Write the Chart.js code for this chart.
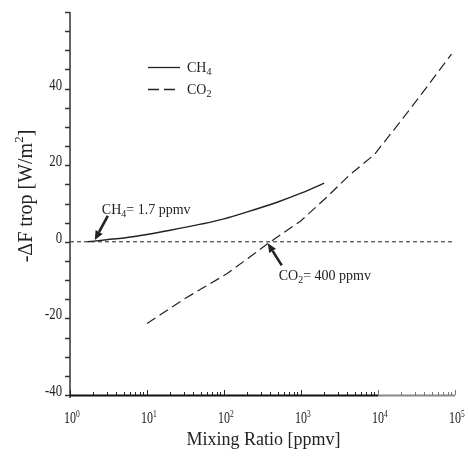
<!DOCTYPE html>
<html>
<head>
<meta charset="utf-8">
<script src="https://cdn.jsdelivr.net/npm/chart.js@4.4.0/dist/chart.umd.min.js"></script>
<style>
html, body { margin: 0; padding: 0; background: #fff; }
</style>
</head>
<body>
<canvas id="chart" width="468" height="456"></canvas>
<script>
// values
var ch4Ratio   = [1.7, 3, 5, 10, 20, 50, 100, 200, 500, 1000, 2000];
var ch4Forcing = [0, 0.55, 1.0, 1.9, 3.0, 4.6, 6.0, 7.8, 10.4, 12.7, 15.3];

var co2Ratio   = [10, 30, 110, 400, 1000, 2200, 4300, 9000, 21000, 43000, 90000];
var co2Forcing = [-21.3, -15.0, -8.3, 0, 5.5, 11.8, 17.5, 22.8, 32.2, 40.4, 49.0];

var zeroRatio   = [1, 100000];
var zeroForcing = [0, 0];

var xDecades    = [0, 1, 2, 3, 4, 5];        // labels 10^n
var yTickLabels = [-40, -20, 0, 20, 40];
var yTickMarks  = [-40, -35, -30, -25, -20, -15, -10, -5, 0, 5, 10, 15, 20, 25, 30, 35, 40, 45, 50, 55, 60];

var serif = '"Liberation Serif", "Times New Roman", serif';
var ink = '#222';

function pts(xs, ys) {
  return xs.map(function (x, i) { return { x: x, y: ys[i] }; });
}

// draw text made of pieces: [text, size, dy]
function rich(ctx, parts, x, y, sx) {
  sx = sx || 1;
  ctx.save();
  ctx.translate(x, y);
  ctx.scale(sx, 1);
  var cx = 0;
  parts.forEach(function (p) {
    ctx.font = p[1] + 'px ' + serif;
    ctx.fillText(p[0], cx, p[2] || 0);
    cx += ctx.measureText(p[0]).width;
  });
  ctx.restore();
  return cx * sx;
}

function textWidth(ctx, s, size) {
  ctx.font = size + 'px ' + serif;
  return ctx.measureText(s).width;
}

function arrow(ctx, x0, y0, x1, y1) {
  var a = Math.atan2(y1 - y0, x1 - x0);
  var hl = 9, hw = 4;
  ctx.save();
  ctx.strokeStyle = ink;
  ctx.fillStyle = ink;
  ctx.lineWidth = 2.6;
  ctx.beginPath();
  ctx.moveTo(x0, y0);
  ctx.lineTo(x1 - Math.cos(a) * hl, y1 - Math.sin(a) * hl);
  ctx.stroke();
  ctx.beginPath();
  ctx.moveTo(x1, y1);
  ctx.lineTo(x1 - Math.cos(a) * hl - Math.sin(a) * hw, y1 - Math.sin(a) * hl + Math.cos(a) * hw);
  ctx.lineTo(x1 - Math.cos(a) * hl + Math.sin(a) * hw, y1 - Math.sin(a) * hl - Math.cos(a) * hw);
  ctx.closePath();
  ctx.fill();
  ctx.restore();
}

var decorations = {
  id: 'decorations',
  afterDraw: function (chart) {
    var ctx = chart.ctx;
    var xs = chart.scales.x, ys = chart.scales.y;
    var area = chart.chartArea;
    ctx.save();
    ctx.fillStyle = ink;
    ctx.textBaseline = 'alphabetic';

    // y axis
    ctx.strokeStyle = '#333';
    ctx.lineWidth = 1.5;
    ctx.beginPath();
    ctx.moveTo(area.left, area.top);
    ctx.lineTo(area.left, area.bottom + 3);
    ctx.stroke();
    yTickMarks.forEach(function (v) {
      var py = Math.round(ys.getPixelForValue(v)) + 0.5;
      ctx.beginPath();
      ctx.moveTo(area.left - 5, py);
      ctx.lineTo(area.left, py);
      ctx.stroke();
    });
    yTickLabels.forEach(function (v) {
      var py = ys.getPixelForValue(v) + 1;
      var s = String(v);
      var w = textWidth(ctx, s, 17) * 0.75;
      rich(ctx, [[s, 17]], area.left - 8 - w, py, 0.75);
    });

    // x axis
    var p4 = xs.getPixelForValue(10000);
    ctx.lineWidth = 2;
    ctx.strokeStyle = '#111';
    ctx.beginPath();
    ctx.moveTo(area.left, area.bottom + 0.5);
    ctx.lineTo(p4, area.bottom + 0.5);
    ctx.stroke();
    ctx.strokeStyle = '#888';
    ctx.beginPath();
    ctx.moveTo(p4, area.bottom + 0.5);
    ctx.lineTo(area.right, area.bottom + 0.5);
    ctx.stroke();
    ctx.lineWidth = 1;
    for (var d = 0; d < 5; d++) {
      for (var m = 1; m <= 10; m++) {
        var px = Math.round(xs.getPixelForValue(m * Math.pow(10, d))) + 0.5;
        var len = (m === 1 || m === 10) ? 5 : 3;
        ctx.strokeStyle = d >= 4 ? '#777' : '#222';
        ctx.beginPath();
        ctx.moveTo(px, area.bottom);
        ctx.lineTo(px, area.bottom - len);
        ctx.stroke();
      }
    }
    xDecades.forEach(function (n) {
      var px = xs.getPixelForValue(Math.pow(10, n));
      var w10 = textWidth(ctx, '10', 16) * 0.75;
      rich(ctx, [['10', 16], [String(n), 10, -6]], px - w10 / 2, area.bottom + 28, 0.75);
    });

    // axis titles
    ctx.font = '18px ' + serif;
    ctx.textAlign = 'center';
    ctx.fillText('Mixing Ratio [ppmv]', (area.left + area.right) / 2 + 1, 445);
    ctx.textAlign = 'left';

    ctx.save();
    ctx.translate(32, 196);
    ctx.rotate(-Math.PI / 2);
    var parts = [['-\u0394F trop [W/m', 20], ['2', 13, -9], [']', 20]];
    var tw = 0;
    parts.forEach(function (p) { tw += textWidth(ctx, p[0], p[1]); });
    rich(ctx, parts, -tw / 2, 0, 1);
    ctx.restore();

    // legend
    var lx = 148, ly1 = 67, ly2 = 89;
    ctx.strokeStyle = ink;
    ctx.lineWidth = 1.3;
    ctx.beginPath();
    ctx.moveTo(lx, ly1 + 0.5);
    ctx.lineTo(lx + 32, ly1 + 0.5);
    ctx.stroke();
    ctx.setLineDash([11, 5]);
    ctx.beginPath();
    ctx.moveTo(lx, ly2 + 0.5);
    ctx.lineTo(lx + 32, ly2 + 0.5);
    ctx.stroke();
    ctx.setLineDash([]);
    rich(ctx, [['CH', 14], ['4', 10, 3]], lx + 39, ly1 + 5, 1);
    rich(ctx, [['CO', 14], ['2', 10, 3]], lx + 39, ly2 + 5, 1);

    // annotations
    var t1x = xs.getPixelForValue(2.1), t1y = ys.getPixelForValue(0.5);
    arrow(ctx, t1x + 13, t1y - 24, t1x, t1y);
    rich(ctx, [['CH', 14], ['4', 10, 3], ['= 1.7 ppmv', 14]], t1x + 7, t1y - 26, 1);

    var t2x = xs.getPixelForValue(370), t2y = ys.getPixelForValue(-0.4);
    arrow(ctx, t2x + 14, t2y + 22, t2x, t2y);
    rich(ctx, [['CO', 14], ['2', 10, 3], ['= 400 ppmv', 14]], t2x + 11, t2y + 37, 1);

    ctx.restore();
  }
};

new Chart(document.getElementById('chart'), {
  type: 'line',
  data: {
    datasets: [{
      label: 'CH4',
      data: pts(ch4Ratio, ch4Forcing),
      borderColor: ink,
      borderWidth: 1.4,
      pointRadius: 0,
      cubicInterpolationMode: 'monotone'
    }, {
      label: 'CO2',
      data: pts(co2Ratio, co2Forcing),
      borderColor: ink,
      borderWidth: 1.2,
      borderDash: [10, 5],
      pointRadius: 0,
      tension: 0
    }, {
      label: 'zero',
      data: pts(zeroRatio, zeroForcing),
      borderColor: ink,
      borderWidth: 1,
      borderDash: [4, 3],
      pointRadius: 0
    }]
  },
  options: {
    responsive: false,
    devicePixelRatio: 1,
    animation: false,
    layout: { padding: { left: 70, right: 13, top: 12, bottom: 61 } },
    plugins: { legend: { display: false }, tooltip: { enabled: false } },
    scales: {
      x: { type: 'logarithmic', min: 1, max: 100000, display: false },
      y: { type: 'linear', min: -40, max: 60, display: false }
    }
  },
  plugins: [decorations]
});
</script>
</body>
</html>
